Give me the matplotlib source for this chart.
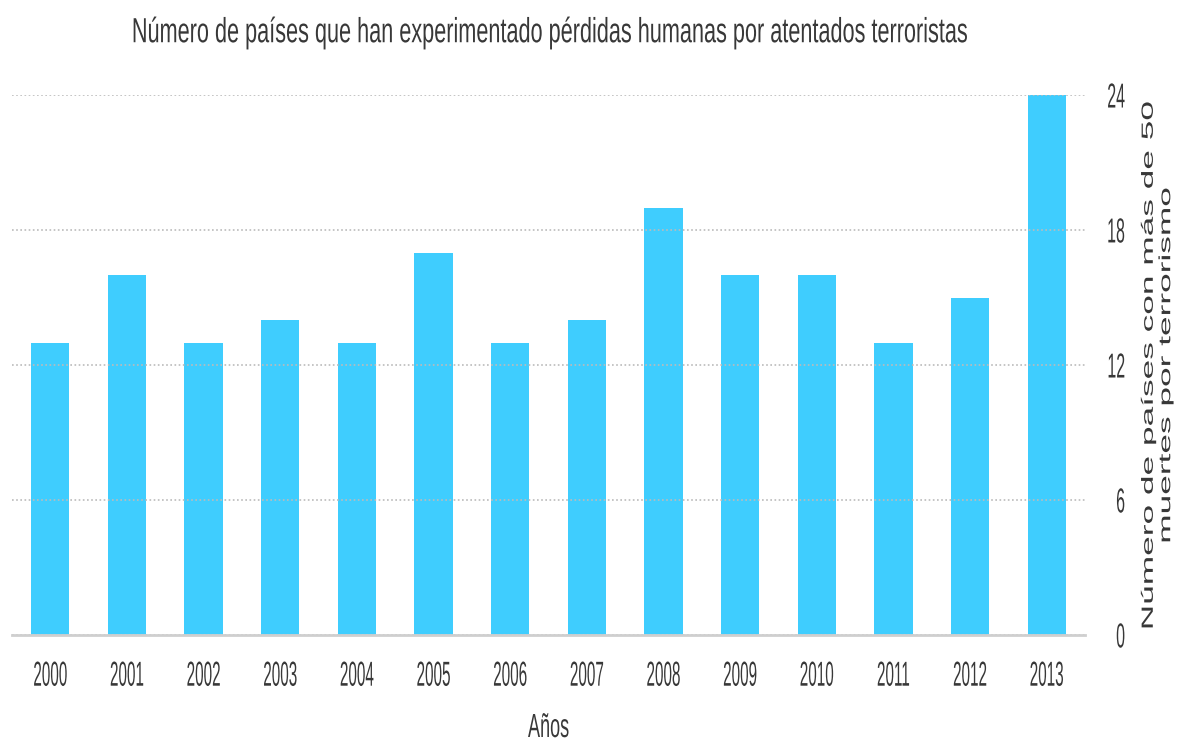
import matplotlib
matplotlib.use('Agg')
import matplotlib.pyplot as plt
from matplotlib.patheffects import AbstractPathEffect
from matplotlib.transforms import Affine2D

years = ['2000', '2001', '2002', '2003', '2004', '2005', '2006',
         '2007', '2008', '2009', '2010', '2011', '2012', '2013']
countries = [13, 16, 13, 14, 13, 17, 13, 14, 19, 16, 16, 13, 15, 24]
yticks = [0, 6, 12, 18, 24]

title = 'Número de países que han experimentado pérdidas humanas por atentados terroristas'
ylabel = 'Número de países con más de 50\nmuertes por terrorismo'
xlabel = 'Años'

bar_color = '#3fcdfe'
text_color = '#383838'

plt.rcParams['font.family'] = ['Liberation Sans', 'DejaVu Sans']


# the reference text looks tall and narrow: draw it small and stretch it upwards
class Stretch(AbstractPathEffect):
    def __init__(self, k, about='center'):
        super().__init__()
        self.k = k
        self.about = about

    def draw_path(self, renderer, gc, tpath, affine, rgbFace=None):
        if self.about == 'base':
            cy = affine.get_matrix()[1, 2]
        else:
            ext = tpath.get_extents(affine)
            cy = (ext.y0 + ext.y1) / 2
        affine = affine + Affine2D().translate(0, -cy).scale(1, self.k).translate(0, cy)
        renderer.draw_path(gc, tpath, affine, rgbFace)


fig = plt.figure(figsize=(11.84, 7.45), dpi=100)
ax = fig.add_axes([12 / 1184, 110 / 745, 1073 / 1184, 540 / 745])

x = range(len(years))
ax.bar(x, countries, width=0.5, color=bar_color, zorder=1)

ax.set_xlim(-0.5, len(years) - 0.5)
ax.set_ylim(0, 24)
ax.set_xticks(list(x))
ax.set_xticklabels(years)
ax.set_yticks(yticks)

ax.yaxis.tick_right()
ax.tick_params(axis='both', length=0, colors=text_color)
ax.tick_params(axis='x', labelsize=11, pad=36.5)
ax.tick_params(axis='y', labelsize=11.5, pad=28.8)
plt.setp(ax.get_xticklabels(), va='baseline', path_effects=[Stretch(2.27, 'base')])
plt.setp(ax.get_yticklabels(), ha='right', path_effects=[Stretch(2.17)])

ax.grid(axis='y', linestyle=(0, (1, 1.5)), color='#bbbbbb', linewidth=1.2, zorder=2)
ax.set_axisbelow(False)
for s in ['left', 'right', 'top']:
    ax.spines[s].set_visible(False)
ax.spines['bottom'].set_color('#cfcfcf')
ax.spines['bottom'].set_linewidth(2)
ax.spines['bottom'].set_zorder(3)

ax.set_title(title, fontsize=15.6, color=text_color, pad=38,
             path_effects=[Stretch(1.61, 'base')])

ax.yaxis.set_label_position('right')
ax.set_ylabel(ylabel, fontsize=11.7, color=text_color, rotation=90,
              ha='center', va='center', rotation_mode='anchor',
              linespacing=1.2, path_effects=[Stretch(2.17)])
ax.yaxis.set_label_coords((1157 - 12) / 1073, 0.5)

ax.set_xlabel(xlabel, fontsize=13, color=text_color, va='baseline',
              path_effects=[Stretch(1.85, 'base')])
ax.xaxis.set_label_coords(0.5, (635 - 737) / 540)

fig.savefig('out.png', dpi=100)
